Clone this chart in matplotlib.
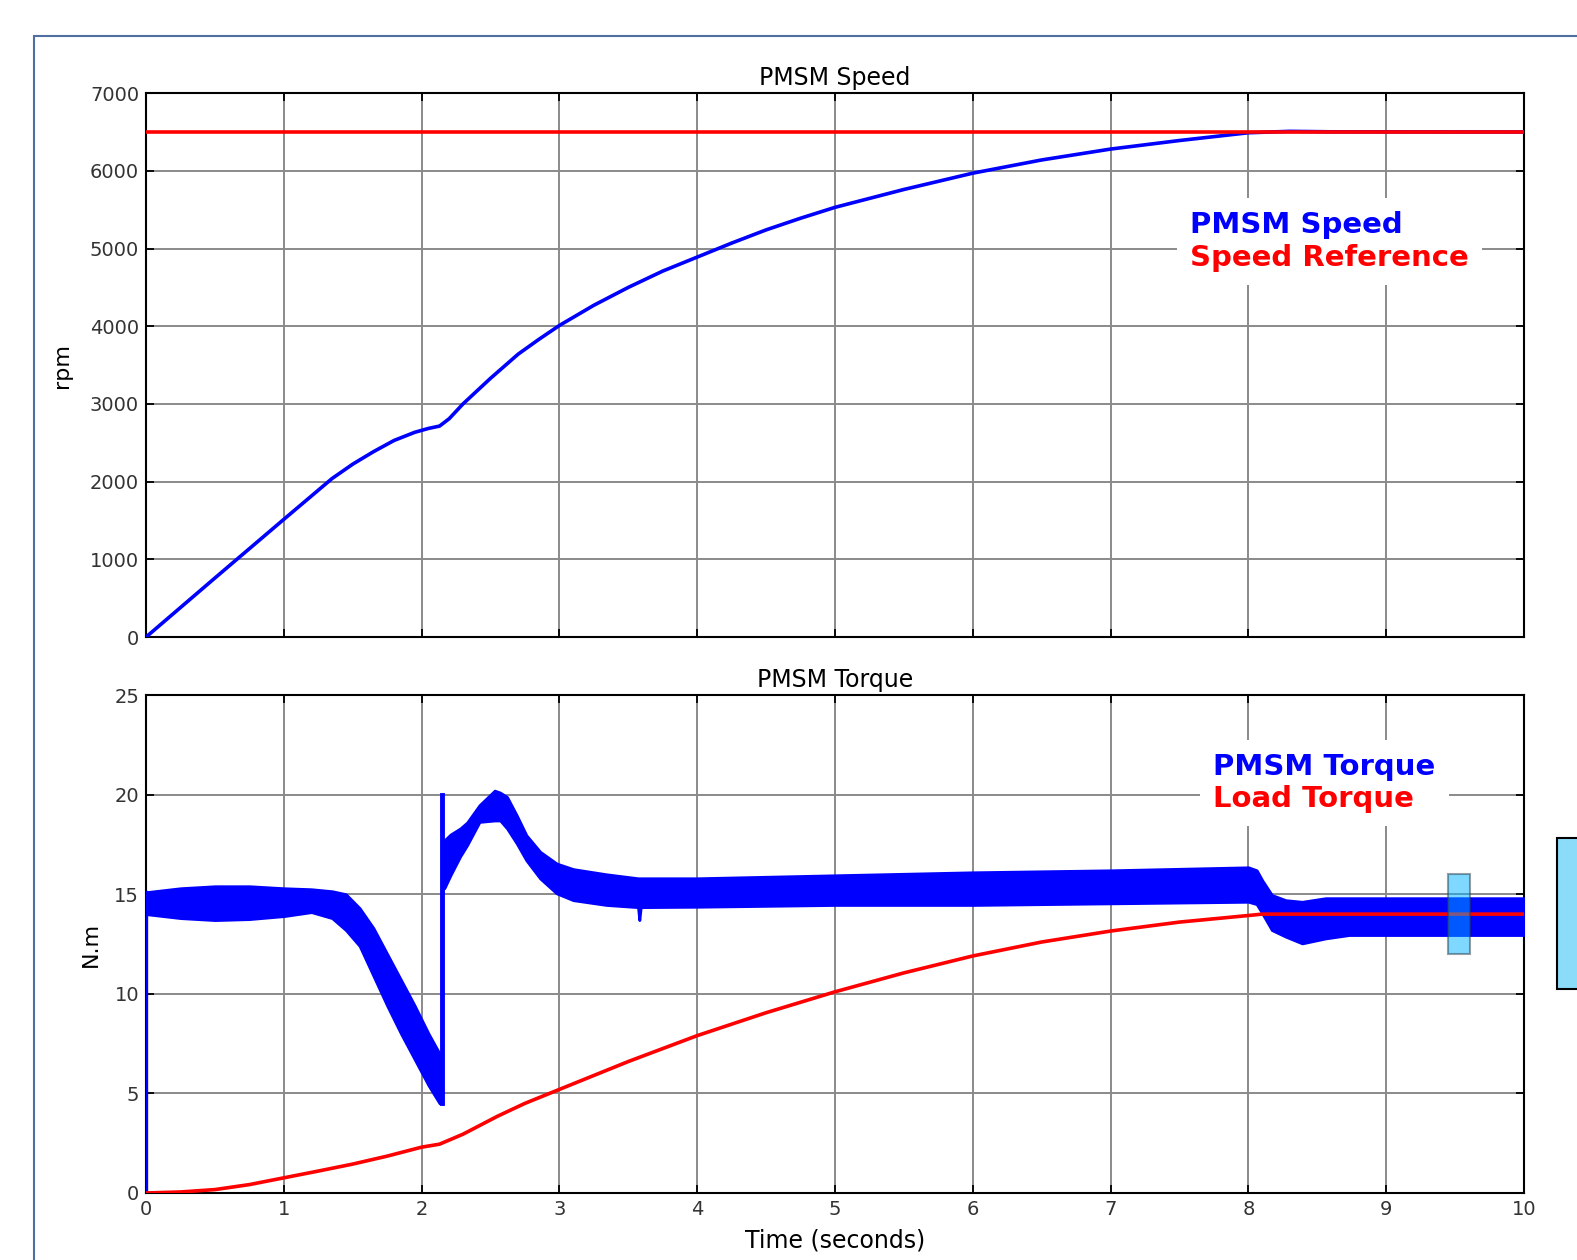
import matplotlib
matplotlib.use("Agg")
import matplotlib.pyplot as plt
from matplotlib.patches import Rectangle
from matplotlib.lines import Line2D

plt.rcParams['font.family'] = ['DejaVu Sans']

# ---- PMSM speed (rpm) ----
speed_t = [0, 0.5, 1.0, 1.2, 1.35, 1.5, 1.65, 1.8, 1.95, 2.05, 2.13, 2.2, 2.3, 2.5, 2.7,
           2.85, 3.0, 3.25, 3.5, 3.75, 4.0, 4.25, 4.5, 4.75, 5.0, 5.5, 6.0, 6.5, 7.0, 7.5,
           8.0, 8.3, 8.6, 10.0]
speed_rpm = [0, 760, 1515, 1815, 2040, 2225, 2385, 2530, 2635, 2685, 2715, 2810, 3000, 3330, 3640,
             3830, 4010, 4270, 4500, 4710, 4890, 5070, 5240, 5390, 5530, 5760, 5970, 6140, 6280, 6390,
             6490, 6508, 6502, 6500]
ref_t = [0, 10]
ref_rpm = [6500, 6500]

# ---- load torque (N.m) ----
load_t = [0, 0.25, 0.5, 0.75, 1.0, 1.25, 1.5, 1.75, 2.0, 2.13, 2.3, 2.55, 2.75, 3.0, 3.25, 3.5,
          3.75, 4.0, 4.5, 5.0, 5.5, 6.0, 6.5, 7.0, 7.5, 8.0, 8.1, 10.0]
load_nm = [0, 0.05, 0.17, 0.42, 0.76, 1.1, 1.45, 1.85, 2.3, 2.45, 2.95, 3.85, 4.5, 5.2, 5.9, 6.6,
           7.25, 7.9, 9.05, 10.1, 11.05, 11.9, 12.6, 13.15, 13.6, 13.93, 14.0, 14.0]

# ---- PMSM torque ripple band (N.m): envelope before the step at 2.13 s ----
band1_t = [0, 0.25, 0.5, 0.75, 1.0, 1.2, 1.35, 1.45, 1.55, 1.65, 1.75, 1.85, 1.95, 2.05, 2.13]
band1_hi = [15.1, 15.3, 15.4, 15.4, 15.3, 15.25, 15.15, 15.0, 14.3, 13.3, 12.0, 10.7, 9.4, 8.0, 7.0]
band1_lo = [14.0, 13.8, 13.7, 13.75, 13.9, 14.1, 13.8, 13.2, 12.4, 10.9, 9.4, 8.0, 6.7, 5.4, 4.5]

# envelope after the step
band2_t = [2.165, 2.21, 2.28, 2.33, 2.42, 2.53, 2.57, 2.62, 2.69, 2.76, 2.86, 2.98, 3.10, 3.34,
           3.57, 3.58, 3.59, 4.0, 5.0, 6.0, 7.0, 8.0, 8.06, 8.1, 8.17, 8.27, 8.39, 8.56, 8.73, 9.0, 10.0]
band2_hi = [17.7, 18.0, 18.3, 18.6, 19.47, 20.2, 20.1, 19.88, 18.96, 17.96, 17.13, 16.54, 16.26, 16.0,
            15.8, 15.8, 15.8, 15.8, 15.95, 16.1, 16.2, 16.35, 16.2, 15.7, 14.96, 14.7, 14.62, 14.8, 14.8, 14.8, 14.8]
band2_lo = [15.3, 15.96, 16.9, 17.46, 18.63, 18.7, 18.7, 18.3, 17.55, 16.7, 15.79, 15.04, 14.7, 14.46,
            14.35, 13.7, 14.35, 14.37, 14.46, 14.46, 14.54, 14.62, 14.5, 14.04, 13.2, 12.87, 12.53, 12.78, 12.95, 12.95, 12.95]

# vertical jumps of the torque trace
start_t = [0, 0]
start_nm = [0, 15.1]
step_t = [2.145, 2.145]
step_nm = [4.5, 20.0]

speed_yticks = [0, 1000, 2000, 3000, 4000, 5000, 6000, 7000]
torque_yticks = [0, 5, 10, 15, 20, 25]
time_ticks = [0, 1, 2, 3, 4, 5, 6, 7, 8, 9, 10]

BLUE = '#0000ff'
RED = '#ff0000'

fig = plt.figure(figsize=(15.77, 12.6), dpi=100)

# outer frame of the screenshot
fig.add_artist(Rectangle((0.0216, -0.1), 1.2, 1.0714, transform=fig.transFigure,
                         fill=False, edgecolor='#4f6fa0', linewidth=1.5))
# cropped light-blue box on the right edge
fig.add_artist(Rectangle((0.9873, 0.2151), 0.05, 0.1198, transform=fig.transFigure,
                         facecolor='#8adcf8', edgecolor='black', linewidth=1.5))

ax1 = fig.add_axes([0.0926, 0.4944, 0.8738, 0.4317])
ax2 = fig.add_axes([0.0926, 0.0532, 0.8738, 0.3952])


def style(ax):
    ax.set_xlim(0, 10)
    ax.set_xticks(time_ticks)
    ax.grid(True, color='#8a8a8a', linewidth=1.4)
    ax.set_axisbelow(True)
    ax.tick_params(direction='in', top=True, right=True, length=6, width=1.3,
                   labelsize=14, labelcolor='#333333', pad=5)
    for s in ax.spines.values():
        s.set_linewidth(1.5)
        s.set_color('black')


LEG_FONT = {'family': 'DejaVu Sans', 'weight': 'bold', 'size': 21}

# ---- speed panel ----
style(ax1)
ax1.plot(speed_t, speed_rpm, color=BLUE, linewidth=2.6, zorder=3)
ax1.plot(ref_t, ref_rpm, color=RED, linewidth=2.6, zorder=4)
ax1.set_ylim(0, 7000)
ax1.set_yticks(speed_yticks)
ax1.tick_params(labelbottom=False)
ax1.set_title('PMSM Speed', fontsize=17, pad=6)
ax1.set_ylabel('rpm', fontsize=16)
ax1.yaxis.set_label_coords(-0.054, 0.5)

h1 = [Line2D([], [], color=BLUE, label='PMSM Speed'),
      Line2D([], [], color=RED, label='Speed Reference')]
leg1 = ax1.legend(handles=h1, loc='upper left', bbox_to_anchor=(0.7483, 0.807),
                  handlelength=0, handletextpad=0, labelcolor='linecolor', prop=LEG_FONT,
                  frameon=True, facecolor='white', edgecolor='none', framealpha=1,
                  fancybox=False, borderaxespad=0, borderpad=0.45, labelspacing=0.15)
leg1.set_zorder(10)

# ---- torque panel ----
style(ax2)
ax2.fill_between(band1_t, band1_lo, band1_hi, color=BLUE, linewidth=2.0, zorder=3)
ax2.fill_between(band2_t, band2_lo, band2_hi, color=BLUE, linewidth=2.0, zorder=3)
ax2.plot(start_t, start_nm, color=BLUE, linewidth=2.4, zorder=3)
ax2.plot(step_t, step_nm, color=BLUE, linewidth=3.5, zorder=3)
ax2.plot(load_t, load_nm, color=RED, linewidth=2.6, zorder=4)
ax2.add_patch(Rectangle((9.45, 12.0), 0.16, 4.0, facecolor=(0.0, 0.7, 1.0), alpha=0.5,
                        edgecolor='#2d3e4a', linewidth=1.5, zorder=5))
ax2.set_ylim(0, 25)
ax2.set_yticks(torque_yticks)
ax2.set_title('PMSM Torque', fontsize=17, pad=6)
ax2.set_ylabel('N.m', fontsize=16)
ax2.yaxis.set_label_coords(-0.033, 0.5)
ax2.set_xlabel('Time (seconds)', fontsize=17)
ax2.xaxis.set_label_coords(0.5, -0.071)

h2 = [Line2D([], [], color=BLUE, label='PMSM Torque'),
      Line2D([], [], color=RED, label='Load Torque')]
leg2 = ax2.legend(handles=h2, loc='upper left', bbox_to_anchor=(0.765, 0.91),
                  handlelength=0, handletextpad=0, labelcolor='linecolor', prop=LEG_FONT,
                  frameon=True, facecolor='white', edgecolor='none', framealpha=1,
                  fancybox=False, borderaxespad=0, borderpad=0.45, labelspacing=0.15)
leg2.set_zorder(10)

fig.savefig('out.png', dpi=100)
plt.close(fig)
